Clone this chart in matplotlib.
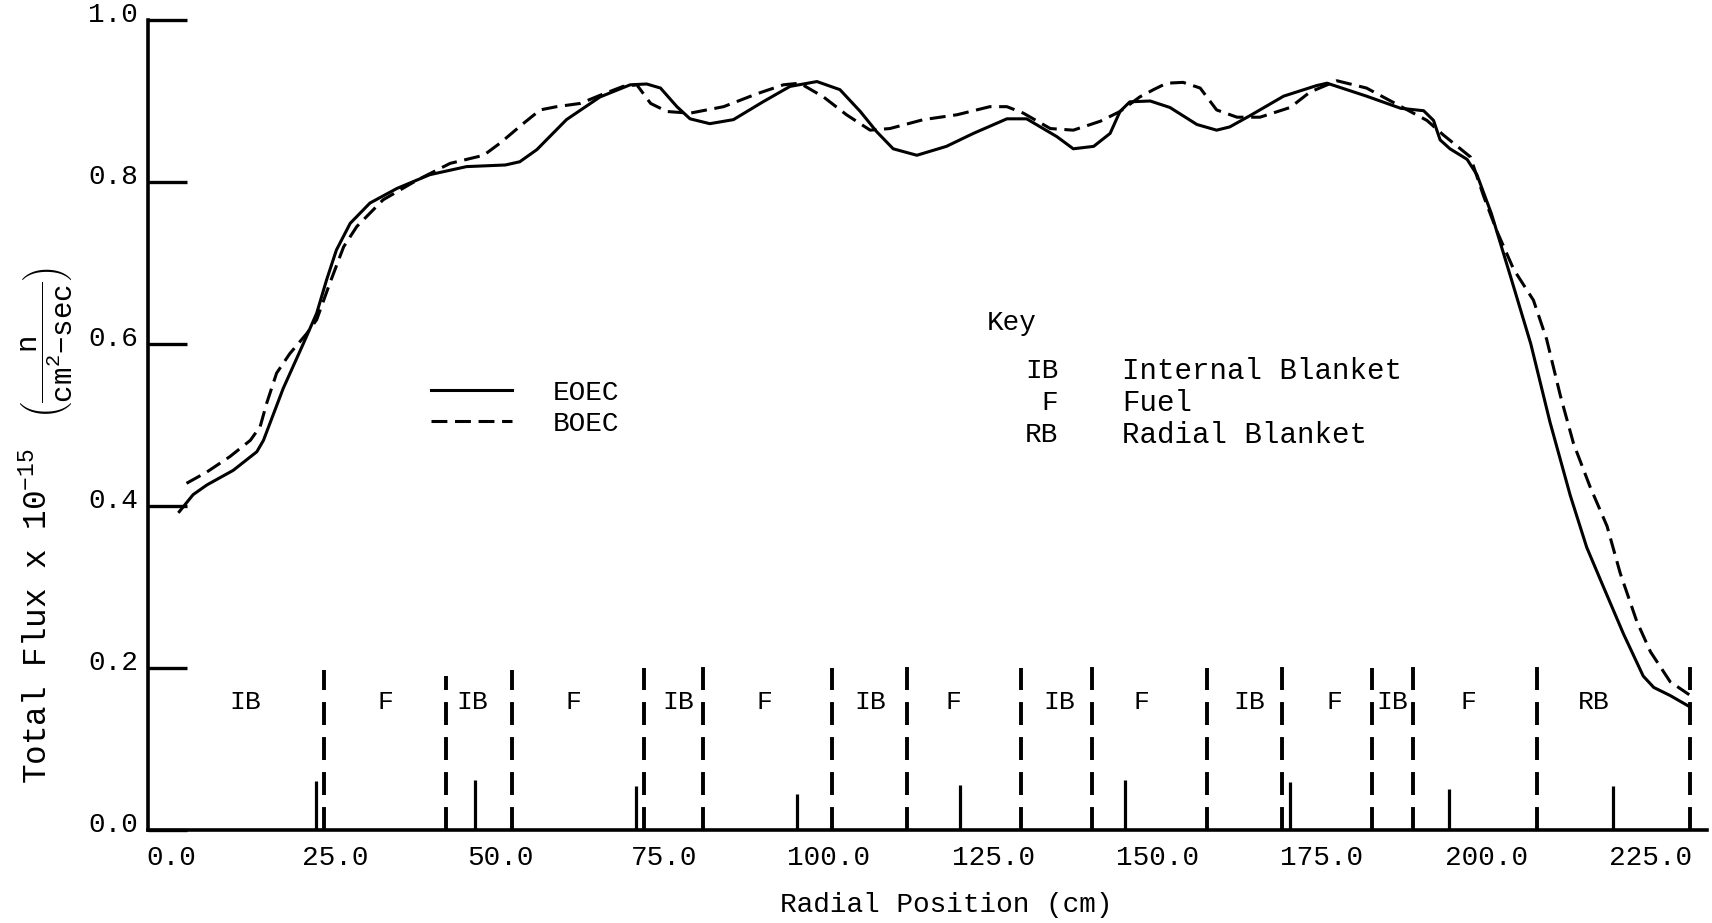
import matplotlib
matplotlib.use("Agg")
import matplotlib.pyplot as plt
from matplotlib.transforms import ScaledTranslation

plt.rcParams["font.family"] = ["Liberation Mono", "DejaVu Sans Mono"]
plt.rcParams["mathtext.fontset"] = "custom"
plt.rcParams["mathtext.rm"] = "Liberation Mono"
plt.rcParams["mathtext.it"] = "Liberation Mono"
plt.rcParams["mathtext.tt"] = "Liberation Mono"

# EOEC total flux (solid), radial position in cm
eoec_r = [1.2, 3.3, 5.4, 9.4, 13.0, 14.0, 17.0, 20.1, 22.1, 23.6, 25.1, 27.2, 30.2,
          34.3, 39.3, 44.9, 50.8, 53.0, 55.6, 60.1, 65.2, 69.8, 72.3, 74.4, 76.9,
          78.9, 81.9, 85.5, 90.0, 94.1, 98.2, 101.7, 104.8, 107.3, 109.8, 113.4,
          117.9, 122.0, 127.1, 130.1, 134.7, 137.2, 140.3, 142.8, 144.3, 145.8,
          148.9, 151.9, 156.0, 159.0, 161.0, 164.1, 169.2, 174.2, 175.8, 181.8,
          187.0, 190.5, 192.0, 193.0, 194.5, 197.1, 198.6, 200.8, 203.8, 206.8,
          209.7, 212.8, 215.3, 217.8, 220.9, 223.9, 225.5, 228.0, 231.0]
eoec_flux = [0.393, 0.414, 0.426, 0.444, 0.467, 0.481, 0.545, 0.601, 0.638, 0.679,
             0.716, 0.749, 0.774, 0.792, 0.809, 0.819, 0.821, 0.825, 0.840, 0.877,
             0.905, 0.920, 0.921, 0.916, 0.893, 0.878, 0.872, 0.877, 0.899, 0.918,
             0.924, 0.914, 0.887, 0.862, 0.841, 0.833, 0.844, 0.860, 0.878, 0.878,
             0.856, 0.841, 0.844, 0.860, 0.887, 0.899, 0.900, 0.892, 0.871, 0.864,
             0.868, 0.882, 0.906, 0.919, 0.922, 0.906, 0.891, 0.888, 0.876, 0.852,
             0.841, 0.828, 0.809, 0.761, 0.681, 0.600, 0.504, 0.413, 0.349, 0.301,
             0.242, 0.190, 0.176, 0.166, 0.152]

# BOEC total flux (dashed)
boec_r = [2.3, 5.4, 8.9, 12.0, 13.5, 14.5, 16.0, 18.0, 20.6, 22.1, 24.1, 26.2, 28.2,
          32.2, 37.3, 42.4, 47.5, 50.0, 53.5, 56.1, 58.6, 62.2, 65.2, 68.7, 70.8,
          72.9, 75.4, 78.9, 84.0, 89.1, 93.1, 95.6, 99.2, 102.7, 106.3, 109.3,
          114.4, 119.5, 124.5, 127.1, 129.6, 133.7, 137.2, 141.3, 144.3, 147.3,
          149.4, 151.4, 153.9, 156.5, 159.0, 162.1, 165.6, 170.2, 173.2, 177.3,
          181.8, 186.4, 191.0, 193.5, 197.6, 199.6, 201.6, 204.2, 207.2, 209.2,
          211.3, 213.3, 215.8, 218.4, 220.4, 222.9, 225.0, 228.0, 230.9]
boec_flux = [0.428, 0.442, 0.461, 0.481, 0.498, 0.527, 0.564, 0.588, 0.613, 0.630,
             0.675, 0.720, 0.745, 0.778, 0.802, 0.823, 0.833, 0.848, 0.872, 0.889,
             0.893, 0.897, 0.907, 0.918, 0.920, 0.897, 0.887, 0.885, 0.893, 0.909,
             0.920, 0.922, 0.905, 0.883, 0.864, 0.866, 0.877, 0.883, 0.893, 0.893,
             0.885, 0.866, 0.864, 0.875, 0.887, 0.905, 0.914, 0.922, 0.923, 0.916,
             0.889, 0.880, 0.880, 0.892, 0.911, 0.925, 0.916, 0.896, 0.876, 0.858,
             0.831, 0.783, 0.740, 0.692, 0.654, 0.606, 0.536, 0.477, 0.424, 0.375,
             0.317, 0.258, 0.220, 0.183, 0.167]

# zone boundaries (dashed verticals) and their heights
boundary_r = [23.2, 41.8, 51.8, 71.9, 80.8, 100.5, 111.9, 129.3, 140.1, 157.5,
              168.9, 182.7, 188.9, 207.7, 231.0]
boundary_top = [0.197, 0.19, 0.197, 0.2, 0.205, 0.2, 0.205, 0.2, 0.205, 0.2,
                0.205, 0.2, 0.205, 0.21, 0.21]

# short solid markers along the axis
marker_r = [22.0, 46.2, 70.7, 95.1, 120.0, 145.1, 170.2, 194.3, 219.3]
marker_h = [0.060, 0.062, 0.054, 0.045, 0.055, 0.062, 0.059, 0.051, 0.054]

# zone labels
zone_names = ["IB", "F", "IB", "F", "IB", "F", "IB", "F", "IB", "F", "IB", "F",
              "IB", "F", "RB"]
zone_centres = [11.3, 32.6, 45.7, 61.1, 77.1, 90.2, 106.3, 118.9, 135.0, 147.6,
                164.0, 176.9, 185.7, 197.3, 216.4]

key_abbr = ["IB", "F", "RB"]
key_desc = ["Internal Blanket", "Fuel", "Radial Blanket"]

x_ticks = [0, 25, 50, 75, 100, 125, 150, 175, 200, 225]
y_ticks = [0.0, 0.2, 0.4, 0.6, 0.8, 1.0]

W, H = 1712, 923
fig = plt.figure(figsize=(W / 100, H / 100), dpi=100)
ax = fig.add_axes([148 / W, 1 - 830 / H, (1707 - 148) / W, (830 - 20) / H])

ax.plot(eoec_r, eoec_flux, color="black", lw=2.2, label="EOEC")
ax.plot(boec_r, boec_flux, color="black", lw=2.2, dashes=(5.2, 2.5), label="BOEC")

ax.vlines(boundary_r, 0, boundary_top, colors="black", lw=2.8,
          linestyles=[(0, (5.9, 3.1))])
ax.vlines(marker_r, 0, marker_h, colors="black", lw=2.3)

for name, r in zip(zone_names, zone_centres):
    ax.text(r, 0.158, name, ha="center", va="center", fontsize=19)

ax.set_xlim(-3.56, 233.6)
ax.set_ylim(0, 1.0)

for s in ["top", "right"]:
    ax.spines[s].set_visible(False)
ax.spines["left"].set_linewidth(2.6)
ax.spines["bottom"].set_linewidth(2.6)

ax.set_xticks(x_ticks)
ax.set_xticklabels([f"{v:.1f}" for v in x_ticks], fontsize=20)
ax.tick_params(axis="x", length=0, pad=11)
ax.set_yticks(y_ticks)
ax.set_yticklabels([f"{v:.1f}" for v in y_ticks], fontsize=20)
ax.tick_params(axis="y", direction="in", length=28, width=2.4, pad=7)
lift = ScaledTranslation(0, 8 / 100, fig.dpi_scale_trans)
for lab in ax.get_yticklabels():
    lab.set_transform(lab.get_transform() + lift)

# legend for the two cycles
ax.legend(loc="upper left", bbox_to_anchor=(0.1815, 0.556), frameon=False,
          fontsize=20, handlelength=2.9, handletextpad=1.5, labelspacing=0.2,
          borderpad=0, borderaxespad=0)

# key
ax.text(127.9, 0.626, "Key", ha="center", va="center", fontsize=20)
for i, (a, d) in enumerate(zip(key_abbr, key_desc)):
    yy = 0.567 - i * 0.0395
    ax.text(134.9, yy, a, ha="right", va="center", fontsize=20)
    ax.text(144.6, yy, d, ha="left", va="center", fontsize=21)

fig.text(946 / W, 1 - 905 / H, "Radial Position (cm)", ha="center", va="center",
         fontsize=20)
fig.text(38 / W, 1 - 784 / H, "Total Flux x 10$^{-15}$", rotation=90,
         ha="center", va="bottom", fontsize=23.5)
fig.text(46 / W, 1 - 343 / H,
         r"$\left(\dfrac{\mathrm{n}}{\mathrm{cm}^{2}\mathrm{-sec}}\right)$",
         rotation=90, ha="center", va="center", fontsize=21)

fig.savefig("out.png", dpi=100)
